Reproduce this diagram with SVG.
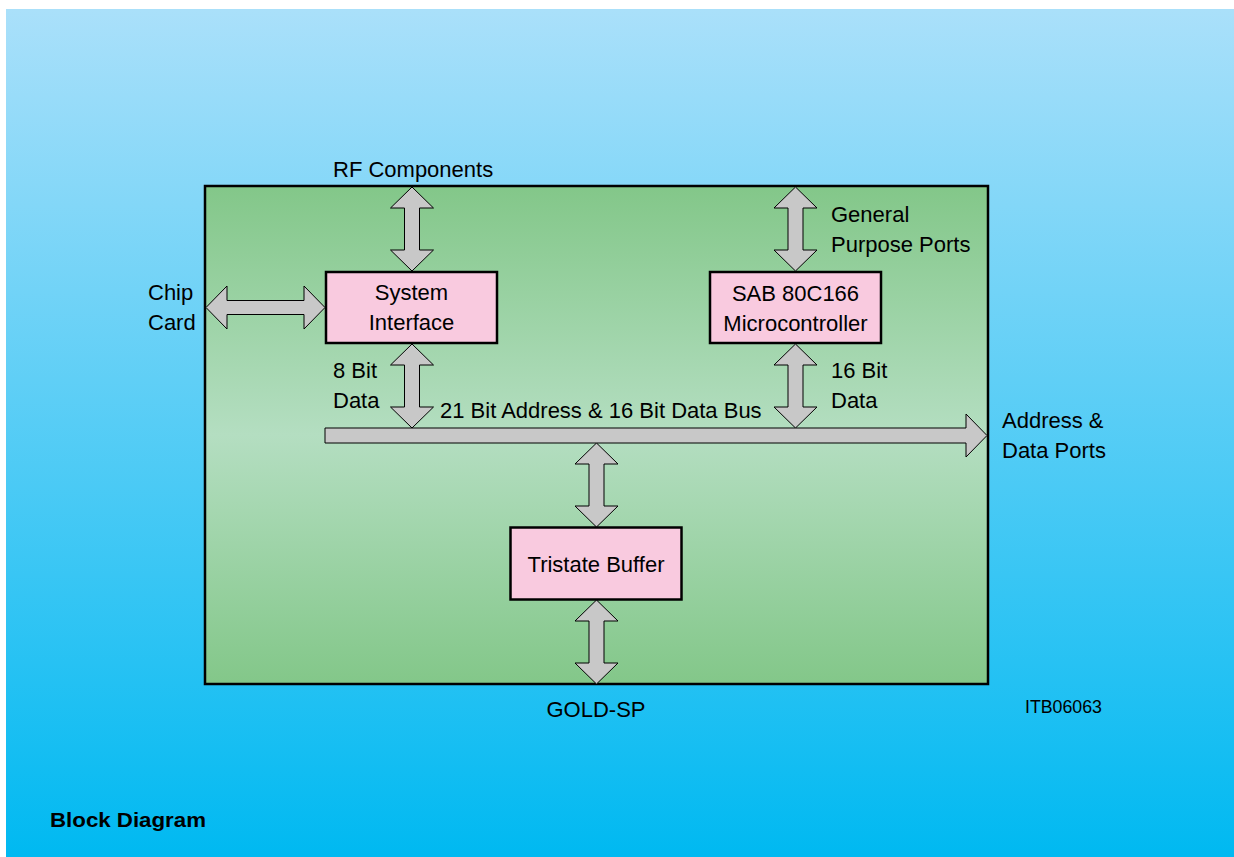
<svg xmlns="http://www.w3.org/2000/svg" width="1234" height="857" viewBox="0 0 1234 857">
<defs>
<linearGradient id="bg" x1="0" y1="0" x2="0" y2="1">
<stop offset="0" stop-color="#AAE0FA"/>
<stop offset="1" stop-color="#00B9F1"/>
</linearGradient>
<linearGradient id="gr" x1="0" y1="0" x2="0" y2="1">
<stop offset="0" stop-color="#83C789"/>
<stop offset="0.5" stop-color="#B4DEC1"/>
<stop offset="1" stop-color="#83C789"/>
</linearGradient>
<style>
.t{font-family:"Liberation Sans",Arial,Helvetica,sans-serif;font-size:22px;fill:#000}
.box{fill:#F9CADF;stroke:#000;stroke-width:2.5}
.arr{fill:#C8C8C8;stroke:#000;stroke-width:1;stroke-linejoin:miter}
</style>
</defs>
<rect x="0" y="0" width="1234" height="857" fill="#FFFFFF"/>
<rect x="6" y="9" width="1228" height="848" fill="url(#bg)"/>
<rect id="chip" x="205" y="186" width="783" height="498" fill="url(#gr)" stroke="#000" stroke-width="2.5"/>

<g id="connectors">
<path class="arr" d="M412,187 L433.5,208 L419.5,208 L419.5,250 L433.5,250 L412,271 L390.5,250 L404.5,250 L404.5,208 L390.5,208 Z"/>
<path class="arr" d="M795.5,187 L817,208 L803,208 L803,250 L817,250 L795.5,271 L774,250 L788,250 L788,208 L774,208 Z"/>
<path class="arr" d="M412,344 L433.5,365 L419.5,365 L419.5,407 L433.5,407 L412,428 L390.5,407 L404.5,407 L404.5,365 L390.5,365 Z"/>
<path class="arr" d="M795.5,344 L817,365 L803,365 L803,407 L817,407 L795.5,428 L774,407 L788,407 L788,365 L774,365 Z"/>
<path class="arr" d="M596.5,443 L618,464 L604,464 L604,506 L618,506 L596.5,527 L575,506 L589,506 L589,464 L575,464 Z"/>
<path class="arr" d="M596.5,600 L618,621 L604,621 L604,663 L618,663 L596.5,684 L575,663 L589,663 L589,621 L575,621 Z"/>
<path class="arr" d="M206,307.5 L227,286 L227,300.5 L304,300.5 L304,286 L325,307.5 L304,329 L304,314.5 L227,314.5 L227,329 Z"/>
<path class="arr" d="M325,428 L966,428 L966,414 L987,435.5 L966,457 L966,443 L325,443 Z"/>
</g>

<g id="system-interface">
<rect class="box" x="326" y="272" width="171" height="71"/>
<text class="t" x="411.5" y="300" text-anchor="middle">System</text>
<text class="t" x="411.5" y="330" text-anchor="middle">Interface</text>
</g>
<g id="microcontroller">
<rect class="box" x="710" y="272" width="171" height="71"/>
<text class="t" x="795.5" y="300.5" text-anchor="middle">SAB 80C166</text>
<text class="t" x="795.5" y="330.5" text-anchor="middle">Microcontroller</text>
</g>
<g id="tristate-buffer">
<rect class="box" x="510.5" y="527.5" width="171" height="72"/>
<text class="t" x="596" y="572" text-anchor="middle">Tristate Buffer</text>
</g>

<g id="labels">
<text class="t" x="333" y="177">RF Components</text>
<text class="t" x="148" y="300">Chip</text>
<text class="t" x="148" y="330">Card</text>
<text class="t" x="831" y="222">General</text>
<text class="t" x="831" y="251.5">Purpose Ports</text>
<text class="t" x="333" y="378">8 Bit</text>
<text class="t" x="333" y="408">Data</text>
<text class="t" x="831" y="378">16 Bit</text>
<text class="t" x="831" y="408">Data</text>
<text class="t" x="440" y="417.5">21 Bit Address &amp; 16 Bit Data Bus</text>
<text class="t" x="1002" y="428">Address &amp;</text>
<text class="t" x="1002" y="458">Data Ports</text>
<text class="t" x="596" y="717" text-anchor="middle">GOLD-SP</text>
<text class="t" x="1025" y="713" style="font-size:17.5px" textLength="77" lengthAdjust="spacingAndGlyphs">ITB06063</text>
<text class="t" x="50" y="827" style="font-size:20px;font-weight:bold" textLength="156" lengthAdjust="spacingAndGlyphs">Block Diagram</text>
</g>
</svg>
